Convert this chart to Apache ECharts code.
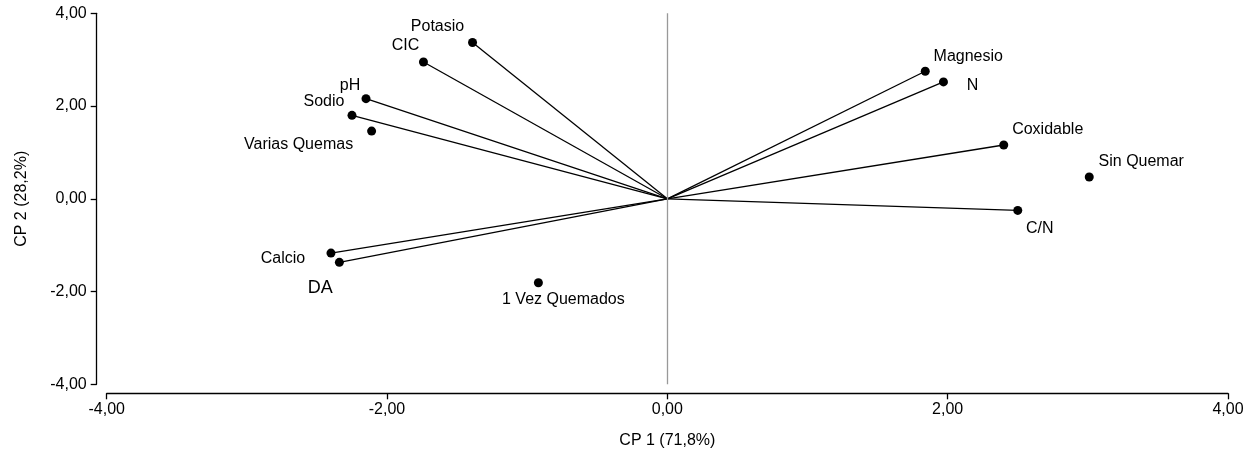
<!DOCTYPE html>
<html><head><meta charset="utf-8">
<script src="https://cdn.jsdelivr.net/npm/echarts@6/dist/echarts.min.js"></script>
<style>html,body{margin:0;padding:0;background:#fff}#c{width:1259px;height:455px}</style>
</head><body><div id="c"></div>
<script>
// Variable loadings (drawn as vectors from origin)
const vectorNames = ['Potasio','CIC','pH','Sodio','Calcio','DA','Magnesio','N','Coxidable','C/N'];
const vectorX = [-1.39,-1.74,-2.15,-2.25,-2.40,-2.34,1.84,1.97,2.40,2.50];
const vectorY = [3.37,2.95,2.16,1.80,-1.17,-1.37,2.75,2.52,1.16,-0.25];
// Treatment groups (points only)
const groupNames = ['Varias Quemas','Sin Quemar','1 Vez Quemados'];
const groupX = [-2.11,3.01,-0.92];
const groupY = [1.46,0.47,-1.81];
// Axes
const axisMin = -4, axisMax = 4, axisStep = 2;
const xTitle = 'CP 1 (71,8%)';
const yTitle = 'CP 2 (28,2%)';

// label placement (style, not data)
const labelOffsets = {
  'Potasio':[-35,-16], 'CIC':[-18,-16], 'pH':[-16,-13], 'Sodio':[-28,-14],
  'Calcio':[-48,6], 'DA':[-19,26], 'Magnesio':[43,-15], 'N':[29,4],
  'Coxidable':[44,-15], 'C/N':[22,18],
  'Varias Quemas':[-73,14], 'Sin Quemar':[52,-15], '1 Vez Quemados':[25,17]
};
const labelSizes = {'DA':18};

const FONT = "'Liberation Sans', Arial, sans-serif";
const fmt = v => v.toFixed(2).replace('.', ',');

const pointData = [];
vectorNames.forEach((n,i)=>pointData.push({name:n, value:[vectorX[i], vectorY[i]]}));
groupNames.forEach((n,i)=>pointData.push({name:n, value:[groupX[i], groupY[i]]}));
pointData.forEach(d=>{
  d.label = {offset: labelOffsets[d.name] || [0,0], fontSize: labelSizes[d.name] || 16};
});

const vectorSeries = vectorNames.map((n,i)=>({
  type:'line', name:n, data:[[0,0],[vectorX[i], vectorY[i]]],
  symbol:'none', silent:true, z:2, animation:false,
  lineStyle:{color:'#000', width:1.3}
}));

const chart = echarts.init(document.getElementById('c'), null, {renderer:'canvas'});
chart.setOption({
  animation:false,
  textStyle:{fontFamily:FONT},
  grid:{left:106.7, right:31, top:13.3, bottom:70.7},
  xAxis:{
    type:'value', min:axisMin, max:axisMax, interval:axisStep, offset:9,
    name:xTitle, nameLocation:'middle', nameGap:39,
    nameTextStyle:{color:'#000', fontSize:16, fontFamily:FONT},
    axisLine:{onZero:false, lineStyle:{color:'#000', width:1.3}},
    axisTick:{length:6, lineStyle:{color:'#000', width:1.3}},
    axisLabel:{formatter:fmt, color:'#000', fontSize:16, margin:8, fontFamily:FONT},
    splitLine:{show:false}
  },
  yAxis:{
    type:'value', min:axisMin, max:axisMax, interval:axisStep, offset:10,
    name:yTitle, nameLocation:'middle', nameGap:67,
    nameTextStyle:{color:'#000', fontSize:16, fontFamily:FONT},
    axisLine:{onZero:false, lineStyle:{color:'#000', width:1.3}},
    axisTick:{length:6, lineStyle:{color:'#000', width:1.3}},
    axisLabel:{formatter:fmt, color:'#000', fontSize:16, margin:10, fontFamily:FONT},
    splitLine:{show:false}
  },
  series: vectorSeries.concat([{
    type:'scatter', data:pointData, symbol:'circle', symbolSize:9, z:5,
    itemStyle:{color:'#000', opacity:1},
    label:{show:true, position:'inside', formatter:'{b}', color:'#000', opacity:1, fontSize:16, fontFamily:FONT, align:'center', verticalAlign:'middle'},
    emphasis:{disabled:true},
    markLine:{
      silent:true, symbol:['none','none'], label:{show:false},
      lineStyle:{color:'#999', width:1.3, type:'solid', opacity:1},
      data:[{xAxis:0}]
    }
  }])
});
</script></body></html>
